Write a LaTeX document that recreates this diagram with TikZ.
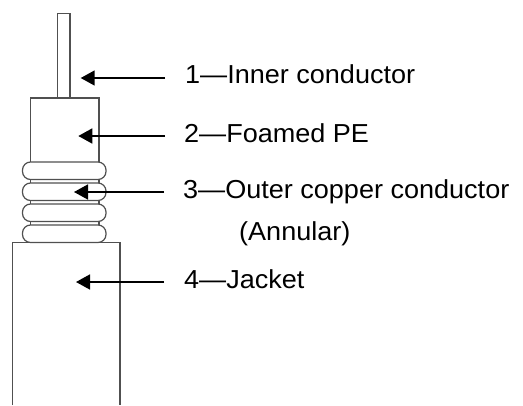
\documentclass[tikz,border=0pt]{standalone}
\usepackage{fontspec}
\setmainfont{Liberation Sans}[FakeStretch=1.04]
\usepackage{xcolor}
\usetikzlibrary{arrows.meta}
\definecolor{cablegray}{HTML}{505050}

\begin{document}
\begin{tikzpicture}[x=1pt,y=-1pt,
  part/.style={draw=cablegray,line width=1.2pt},
  pointer/.style={line width=1.6pt,-{Triangle[length=14pt,width=15pt]}},
  lbl/.style={anchor=base west,inner sep=0pt,font=\fontsize{26}{31}\selectfont}]
\useasboundingbox (0,0) rectangle (523,405);
% cable
\draw[part] (57.3,13.3) rectangle (70,98);
\draw[part] (30.7,98) rectangle (99,242);
\foreach \y in {162,183,204,225} \draw[part,fill=white,rounded corners=8pt] (22.5,\y) rectangle (106,\y+17.5);
\draw[part] (12.5,405) -- (12.5,242.5) -- (120,242.5) -- (120,405);
% labels
\node[lbl] (l1) at (185,83) {1—Inner conductor};
\node[lbl] (l2) at (184,142) {2—Foamed PE};
\node[lbl] (l3) at (183,198) {3—Outer copper conductor};
\node[lbl] (l3b) at (239,240) {(Annular)};
\node[lbl] (l4) at (184,288) {4—Jacket};
\coordinate (s1) at (165,78);   \coordinate (t1) at (80.7,78);
\coordinate (s2) at (165,136);  \coordinate (t2) at (78.3,136);
\coordinate (s3) at (164,192);  \coordinate (t3) at (74,192);
\coordinate (s4) at (164,282);  \coordinate (t4) at (76,282);
\foreach \i in {1,...,4} \draw[pointer] (s\i) -- (t\i);
\end{tikzpicture}
\end{document}
